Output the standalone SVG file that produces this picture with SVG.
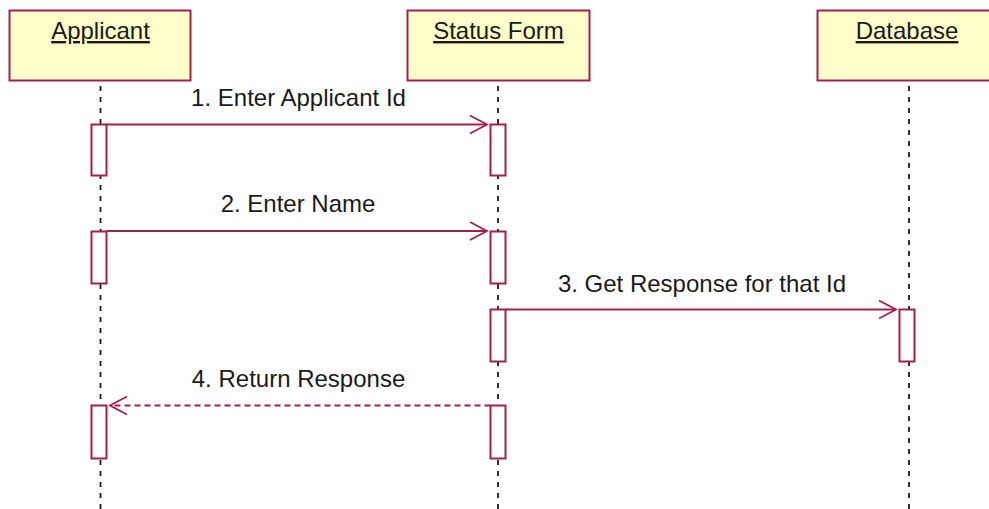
<svg xmlns="http://www.w3.org/2000/svg" width="989" height="509" viewBox="0 0 989 509">
<style>
.obj{fill:#ffffcc;stroke:#a3204c;stroke-width:2}
.bar{fill:#ffffff;stroke:#a3204c;stroke-width:2}
.life{stroke:#1a1a1a;stroke-width:1.8;stroke-dasharray:5 6;fill:none}
.msg{stroke:#a3204c;stroke-width:1.8;fill:none}
.ret{stroke:#a3204c;stroke-width:1.8;fill:none;stroke-dasharray:6 4}
.hd{font-family:"Liberation Sans",Arial,sans-serif;font-size:24px;fill:#1a1a1a;text-anchor:middle;text-decoration:underline}
.lbl{font-family:"Liberation Sans",Arial,sans-serif;font-size:24px;fill:#1a1a1a;text-anchor:middle}
</style>
<defs>
<marker id="open" markerUnits="userSpaceOnUse" markerWidth="20" markerHeight="22" refX="17" refY="10" orient="auto" overflow="visible">
<path d="M0,1 L17,10 L0,19" fill="none" stroke="#a3204c" stroke-width="1.8"/>
</marker>
</defs>
<g id="lifelines">
<line class="life" x1="100.5" y1="86" x2="100.5" y2="509"/>
<line class="life" x1="498" y1="86" x2="498" y2="509"/>
<line class="life" x1="909" y1="86" x2="909" y2="509"/>
</g>
<g id="applicant">
<rect class="obj" x="9.5" y="10.5" width="181" height="70"/>
<text class="hd" x="100.5" y="39">Applicant</text>
<rect class="bar" x="91.5" y="124.5" width="15" height="51"/>
<rect class="bar" x="91.5" y="231.5" width="15" height="52"/>
<rect class="bar" x="91.5" y="405.5" width="15" height="53"/>
</g>
<g id="status-form">
<rect class="obj" x="407.5" y="10.5" width="182" height="70"/>
<text class="hd" x="498.5" y="39">Status Form</text>
<rect class="bar" x="490.5" y="124.5" width="15" height="51"/>
<rect class="bar" x="490.5" y="231.5" width="15" height="52"/>
<rect class="bar" x="490.5" y="309.5" width="15" height="52"/>
<rect class="bar" x="490.5" y="405.5" width="15" height="53"/>
</g>
<g id="database">
<rect class="obj" x="817.5" y="10.5" width="200" height="70"/>
<text class="hd" x="907" y="39">Database</text>
<rect class="bar" x="899.5" y="309.5" width="15" height="52"/>
</g>
<g id="connectors">
<line class="msg" x1="106.5" y1="124.5" x2="487" y2="124.5" marker-end="url(#open)"/>
<text class="lbl" x="298.5" y="106">1. Enter Applicant Id</text>
<line class="msg" x1="106.5" y1="231" x2="487" y2="231" marker-end="url(#open)"/>
<text class="lbl" x="298" y="212">2. Enter Name</text>
<line class="msg" x1="505.5" y1="309.5" x2="896" y2="309.5" marker-end="url(#open)"/>
<text class="lbl" x="702" y="292">3. Get Response for that Id</text>
<line class="ret" x1="490.5" y1="405.5" x2="110" y2="405.5" marker-end="url(#open)"/>
<text class="lbl" x="298.5" y="387">4. Return Response</text>
</g>
</svg>
